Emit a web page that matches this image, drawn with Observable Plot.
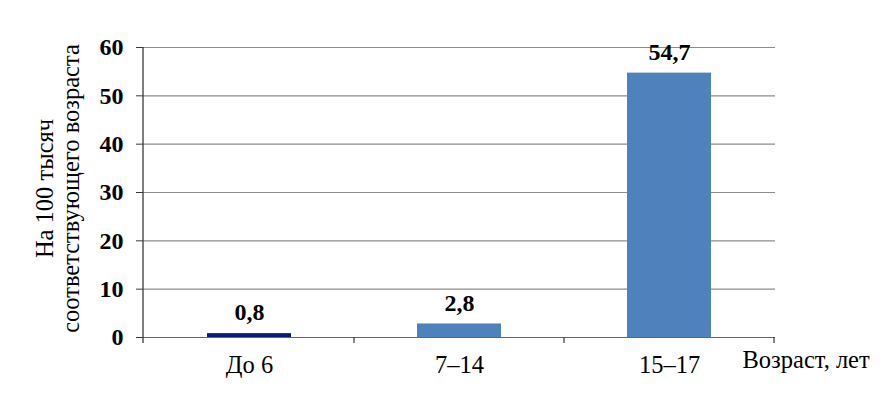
<!DOCTYPE html>
<html><head><meta charset="utf-8">
<script src="https://cdn.jsdelivr.net/npm/d3@7"></script>
<script src="https://cdn.jsdelivr.net/npm/@observablehq/plot@0.6"></script>
<style>
body{margin:0;background:#fff;}
svg{font-family:"Liberation Serif","Times New Roman",serif;}
</style></head><body><div id="chart"></div>
<script>
const categories = ["До 6", "7–14", "15–17"];
const values = [0.8, 2.8, 54.7];
const valueLabels = ["0,8", "2,8", "54,7"];
const yTicks = [0, 10, 20, 30, 40, 50, 60];
const yLabel = "На 100 тысяч\nсоответствующего возраста";
const xLabel = "Возраст, лет";

const data = categories.map((c, i) => ({cat: c, v: values[i], lab: valueLabels[i], i}));
const fills = ["#0b1a72", "#4f81bd", "#4f81bd"];

const axisLines = (index, scales, vals, dims) => {
  const g = d3.create("svg:g");
  const x = scales.x, y = scales.y;
  const step = x.step();
  const gap = (step - x.bandwidth()) / 2;
  const y0 = y(0);
  const left = dims.marginLeft;
  g.append("line").attr("x1", left).attr("x2", left).attr("y1", y(yTicks[yTicks.length - 1])).attr("y2", y0 + 6)
    .attr("stroke", "#3a3a3a").attr("stroke-width", 1.3);
  categories.forEach(c => {
    const b = x(c) + x.bandwidth() + gap;
    g.append("line").attr("x1", b).attr("x2", b).attr("y1", y0).attr("y2", y0 + 6)
      .attr("stroke", "#3a3a3a").attr("stroke-width", 1.2);
  });
  return g.node();
};

const chart = Plot.plot({
  width: 883,
  height: 399,
  marginLeft: 143,
  marginRight: 108,
  marginTop: 47,
  marginBottom: 62,
  style: {fontFamily: "'Liberation Serif','Times New Roman',serif", background: "#fff"},
  x: {domain: categories, paddingInner: 0.6, paddingOuter: 0.3},
  y: {domain: [0, 60]},
  marks: [
    Plot.gridY(yTicks.slice(1), {stroke: "#8c8c8c", strokeOpacity: 1, strokeWidth: 1.2}),
    Plot.barY(data, {x: "cat", y: "v", fill: d => fills[d.i]}),
    Plot.ruleY([0], {stroke: "#666", strokeWidth: 1.2}),
    Plot.axisY({ticks: yTicks, tickSize: 7, tickPadding: 13, fontSize: 24, fontWeight: "bold", fill: "#000", stroke: "#3a3a3a", label: null}),
    Plot.axisX({tickSize: 0, tickPadding: 18, fontSize: 24.5, fill: "#000", label: null}),
    axisLines,
    Plot.text(data, {x: "cat", y: "v", text: "lab", dy: -21, fontSize: 24, fontWeight: "bold", fill: "#000"}),
    Plot.text([xLabel], {frameAnchor: "bottom-right", textAnchor: "start", dx: -33, dy: 30, fontSize: 24.5, fill: "#000"}),
    Plot.text([yLabel], {frameAnchor: "left", textAnchor: "middle", rotate: -90, dx: -86, dy: -4, fontSize: 24.5, lineHeight: 1.08, fill: "#000"})
  ]
});
document.getElementById("chart").appendChild(chart);
</script></body></html>
